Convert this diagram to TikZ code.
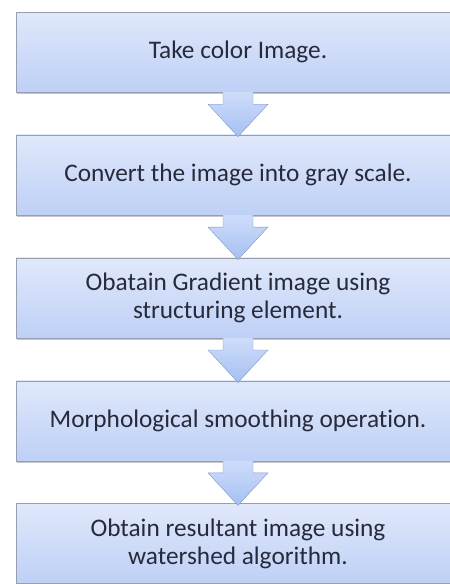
\documentclass[tikz,border=0pt]{standalone}
\usepackage{fontspec}
\setmainfont{Carlito}[Ligatures=NoCommon]
\usetikzlibrary{positioning,calc,shadows}
\definecolor{BoxTop}{RGB}{224,232,251}
\definecolor{BoxBottom}{RGB}{190,208,246}
\definecolor{BoxLine}{RGB}{150,158,176}
\definecolor{ArrowTop}{RGB}{206,220,250}
\definecolor{ArrowBottom}{RGB}{166,192,242}
\definecolor{ArrowLine}{RGB}{130,150,190}
\definecolor{TextDark}{RGB}{38,42,58}
\tikzset{
  paso/.style   = {draw=BoxLine, rectangle, align=center, font=\fontsize{25.3}{28}\selectfont,
                   text=TextDark, top color=BoxTop, bottom color=BoxBottom,
                   minimum width=444pt, minimum height=80pt, inner sep=2pt,
                   drop shadow={shadow xshift=1pt, shadow yshift=-2pt, opacity=.45}},
  gordaflecha/.style = {draw=ArrowLine, line join=miter, top color=ArrowTop,
                   bottom color=ArrowBottom},
}
% fat down arrow from the bottom of one box to the top of the next
\newcommand{\bajada}[2]{%
  \path[gordaflecha] ($(#1.south)+(-15pt,0)$) -- ($(#1.south)+(-15pt,-12pt)$)
    -- ($(#1.south)+(-30pt,-12pt)$) -- ($(#2.north)+(0,-2pt)$)
    -- ($(#1.south)+(30pt,-12pt)$) -- ($(#1.south)+(15pt,-12pt)$)
    -- ($(#1.south)+(15pt,0)$);}

\begin{document}
\begin{tikzpicture}[node distance=42.5pt]
  \useasboundingbox (0,0) rectangle (450pt,-584pt);
  \node[paso] (color) at (238pt,-52pt) {\raisebox{-5pt}{Take color Image.}};
  \node[paso, below=of color] (gris) {Convert the image into gray scale.};
  \node[paso, below=of gris] (grad) {Obatain Gradient image using\\structuring element.};
  \node[paso, below=of grad] (suave) {Morphological smoothing operation.};
  \node[paso, below=of suave] (cuenca) {Obtain resultant image using\\watershed algorithm.};
  \bajada{color}{gris}
  \bajada{gris}{grad}
  \bajada{grad}{suave}
  \bajada{suave}{cuenca}
\end{tikzpicture}
\end{document}
